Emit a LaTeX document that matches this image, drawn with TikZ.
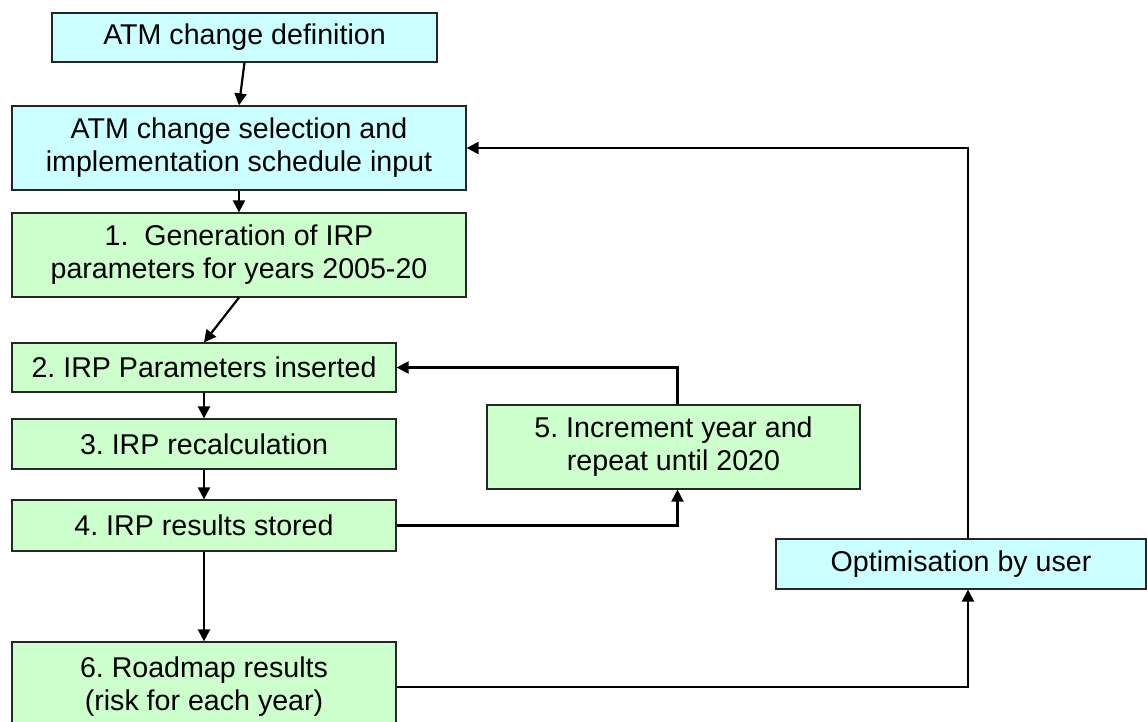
\documentclass[tikz,border=0pt]{standalone}
\usepackage{fontspec}
\setmainfont{Liberation Sans}
\usetikzlibrary{arrows.meta}
\definecolor{boxcyan}{HTML}{CCFFFF}
\definecolor{boxgreen}{HTML}{CCFFCC}
\frenchspacing
\begin{document}
\begin{tikzpicture}[x=0.5pt,y=-0.5pt,
	    box/.style={draw=black!85,line width=0.6pt,inner sep=0pt,align=center,
	      font=\fontsize{14.3}{16.5}\selectfont},
	    inbox/.style={box,fill=boxcyan},
	    stepbox/.style={box,fill=boxgreen},
	    flow/.style={line width=1.1pt,-{Triangle[length=6pt,width=6pt]}}]
	    \useasboundingbox (0,0) rectangle (1147,722);
	    % input boxes
	    \node[inbox,minimum width=192.5pt,minimum height=24.5pt] (def) at (244.5,37.5) {ATM change definition};
	    \node[inbox,minimum width=227pt,minimum height=42pt] (sel) at (239,148) {ATM change selection and\\implementation schedule input};
	    \node[inbox,minimum width=185pt,minimum height=25pt] (opt) at (961,564) {Optimisation by user};
	    % calculation steps
	    \node[stepbox,minimum width=227pt,minimum height=42pt] (gen) at (239,255) {1.\ \ Generation of IRP\\parameters for years 2005-20};
	    \node[stepbox,minimum width=192pt,minimum height=24.5pt] (ins) at (204,367.5) {2. IRP Parameters inserted};
	    \node[stepbox,minimum width=192pt,minimum height=25pt] (recalc) at (204,444) {3. IRP recalculation};
	    \node[stepbox,minimum width=192pt,minimum height=25.5pt] (stored) at (204,525.5) {4. IRP results stored};
	    \node[stepbox,minimum width=186.5pt,minimum height=42pt] (incr) at (673.5,447) {5. Increment year and\\repeat until 2020};
	    \node[stepbox,minimum width=192pt,minimum height=45pt] (road) at (204,687) {6. Roadmap results\\(risk for each year)};
	    % main flow
	    \draw[flow] (def.south) -- (sel.north);
	    \draw[flow] (sel) -- (gen);
	    \draw[flow] (gen.south) -- (ins.north);
	    \draw[flow] (ins) -- (recalc);
	    \draw[flow] (recalc) -- (stored);
	    \draw[flow] (stored) -- (road);
	    % yearly loop
	    \draw[flow] (stored.east) -| ([xshift=2pt]incr.south);
	    \draw[flow] ([xshift=2pt]incr.north) |- (ins.east);
	    % optimisation loop
	    \draw[flow] (road.east) -| ([xshift=3.5pt]opt.south);
	    \draw[flow] ([xshift=3.5pt]opt.north) |- (sel.east);
	\end{tikzpicture}
\end{document}
